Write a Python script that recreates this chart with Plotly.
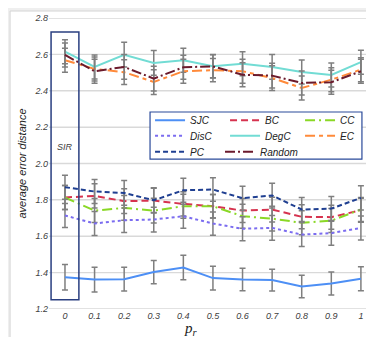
import plotly.graph_objects as go

# p_r values on the x axis
pr = [0, 0.1, 0.2, 0.3, 0.4, 0.5, 0.6, 0.7, 0.8, 0.9, 1]
pr_labels = ['0', '0.1', '0.2', '0.3', '0.4', '0.5', '0.6', '0.7', '0.8', '0.9', '1']
y_ticks = [1.2, 1.4, 1.6, 1.8, 2.0, 2.2, 2.4, 2.6, 2.8]

# average error distance per method
sjc    = [1.375, 1.362, 1.364, 1.403, 1.428, 1.370, 1.362, 1.359, 1.324, 1.340, 1.366]
disc   = [1.714, 1.670, 1.688, 1.692, 1.710, 1.670, 1.641, 1.646, 1.609, 1.617, 1.646]
pc     = [1.870, 1.846, 1.838, 1.798, 1.853, 1.857, 1.809, 1.824, 1.747, 1.752, 1.811]
bc     = [1.813, 1.822, 1.793, 1.796, 1.778, 1.765, 1.741, 1.747, 1.707, 1.705, 1.743]
degc   = [2.615, 2.531, 2.598, 2.553, 2.568, 2.535, 2.549, 2.531, 2.503, 2.487, 2.557]
rand   = [2.597, 2.507, 2.531, 2.467, 2.529, 2.534, 2.488, 2.483, 2.443, 2.447, 2.507]
cc     = [1.813, 1.741, 1.756, 1.741, 1.765, 1.765, 1.710, 1.697, 1.674, 1.686, 1.747]
ec     = [2.568, 2.520, 2.502, 2.448, 2.507, 2.513, 2.507, 2.470, 2.415, 2.461, 2.516]

# error bar half-widths
err_sjc = [0.070, 0.068, 0.065, 0.064, 0.067, 0.065, 0.062, 0.060, 0.062, 0.063, 0.066]
err_oth = [0.066, 0.066, 0.068, 0.068, 0.066, 0.064, 0.066, 0.068, 0.066, 0.066, 0.066]

series = [
    # name, values, errors, color, dash, legend row
    ('SJC', sjc, err_sjc, '#4d8ff5', 'solid', 'legend'),
    ('BC', bc, err_oth, '#d6334f', '7px,4px', 'legend'),
    ('CC', cc, err_oth, '#8ad826', '10px,4px,2px,4px', 'legend'),
    ('DisC', disc, err_oth, '#7b6cf0', 'dot', 'legend2'),
    ('DegC', degc, err_oth, '#72dcd4', 'solid', 'legend2'),
    ('EC', ec, err_oth, '#ff8a3a', '10px,4px,4px,4px', 'legend2'),
    ('PC', pc, err_oth, '#1f3f91', '5px,3px', 'legend3'),
    ('Random', rand, err_oth, '#6b1a2c', '10px,3px,2px,3px', 'legend4'),
]

fig = go.Figure()
for name, vals, errs, col, dash, lg in series:
    fig.add_trace(go.Scatter(
        x=pr, y=vals, name=name, mode='lines', legend=lg,
        line=dict(color=col, width=2, dash=dash),
        error_y=dict(type='data', array=errs, visible=True,
                     color='#7f7f7f', thickness=1.5, width=3)))

# horizontal gridlines at each y tick
for t in y_ticks:
    fig.add_shape(type='line', xref='paper', yref='y', x0=0, x1=1, y0=t, y1=t,
                  line=dict(color='#d9d9d9', width=1.3), layer='below')

# grey strips round the white chart card, and its thin border (all outside the plot area)
grey = '#efefef'
for x0, x1, y0, y1 in [(-0.2, 1.1, 1.024, 1.1), (-0.2, 1.1, -0.2, -0.110),
                       (-0.2, -0.119, -0.2, 1.1), (1.009, 1.1, -0.2, 1.1)]:
    fig.add_shape(type='rect', xref='paper', yref='paper', x0=x0, x1=x1, y0=y0, y1=y1,
                  fillcolor=grey, line=dict(width=0))
fig.add_shape(type='rect', xref='paper', yref='paper', x0=-0.119, x1=1.009, y0=-0.110, y1=1.024,
              line=dict(color='#d4d4d4', width=1))
# SIR box around p_r = 0
fig.add_shape(type='rect', xref='x', yref='y', x0=-0.047, x1=0.047, y0=1.251, y1=2.723,
              line=dict(color='#2a3f80', width=1.5))
fig.add_annotation(x=0, y=2.091, xref='x', yref='y', text='SIR', showarrow=False,
                   font=dict(family='Liberation Sans', size=9, color='#404040', style='italic'))
# legend frame
fig.add_shape(type='rect', xref='paper', yref='paper', x0=0.309, x1=0.957, y0=0.515, y1=0.677,
              fillcolor='white', line=dict(color='#2a4a9a', width=1.2))
# x title p_r
fig.add_annotation(x=0.435, y=-0.068, xref='paper', yref='paper', showarrow=False,
                   text='p<sub>r</sub>', yanchor='middle',
                   font=dict(family='Liberation Serif', size=15, color='#222', style='italic'))

legfont = dict(family='Liberation Sans', size=10, color='#222', style='italic')
legcommon = dict(orientation='h', xanchor='left', yanchor='middle',
                 bgcolor='rgba(0,0,0,0)', borderwidth=0, font=legfont, itemwidth=30)

fig.update_layout(
    template='none',
    width=374, height=337,
    margin=dict(l=41, r=6, t=10, b=36),
    paper_bgcolor='white', plot_bgcolor='white',
    showlegend=True,
    legend=dict(x=0.309, y=0.649, entrywidth=30, **legcommon),
    legend2=dict(x=0.309, y=0.595, entrywidth=30, **legcommon),
    legend3=dict(x=0.309, y=0.540, entrywidth=30, **legcommon),
    legend4=dict(x=0.523, y=0.540, **legcommon),
    xaxis=dict(range=[-0.054, 1.051], tickvals=pr, ticktext=pr_labels,
               showgrid=False, zeroline=False, showline=False, ticks='',
               tickfont=dict(family='Liberation Sans', size=9, color='#404040', style='italic')),
    yaxis=dict(range=[1.2, 2.8], tickvals=y_ticks,
               tickformat='.1f', ticks='',
               showgrid=True, gridcolor='#d9d9d9', gridwidth=1, zeroline=False, showline=False,
               title=dict(text='average error distance', standoff=5,
                          font=dict(family='Liberation Sans', size=11, color='#222', style='italic')),
               tickfont=dict(family='Liberation Sans', size=9, color='#404040', style='italic')),
)

fig.write_html('out.html')
